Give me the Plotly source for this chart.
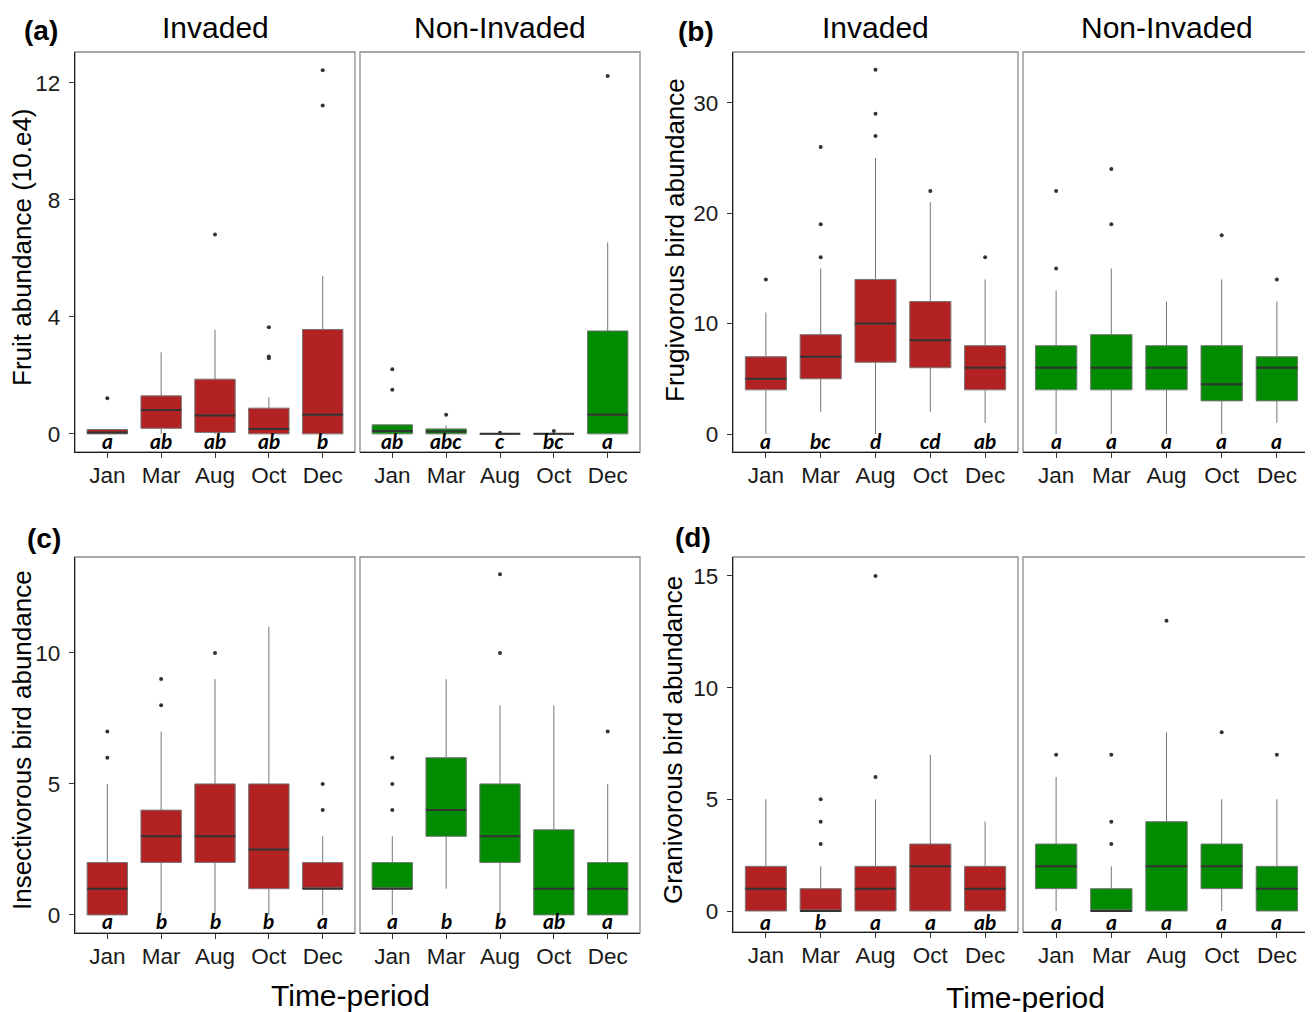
import plotly.graph_objects as go

W, H = 1313, 1012
OFF = 8  # page body margin offset in the browser

months = ["Jan", "Mar", "Aug", "Oct", "Dec"]
site_titles = ["Invaded", "Non-Invaded"]
panel_tags = ["(a)", "(b)", "(c)", "(d)"]
y_titles = ["Fruit abundance (10.e4)", "Frugivorous bird abundance",
            "Insectivorous bird abundance", "Granivorous bird abundance"]

# ---- (a) Fruit abundance ----
fruit_inv_q1 = [0, 0.19, 0.05, 0, 0]
fruit_inv_med = [0.05, 0.82, 0.63, 0.17, 0.65]
fruit_inv_q3 = [0.15, 1.30, 1.87, 0.88, 3.57]
fruit_inv_lo = [0, 0, 0, 0, 0]
fruit_inv_hi = [0.17, 2.79, 3.56, 1.25, 5.40]
fruit_inv_out = [[1.22], [], [6.82], [3.65, 2.65, 2.59], [12.44, 11.23]]
fruit_inv_letters = ["a", "ab", "ab", "ab", "b"]

fruit_non_q1 = [0, 0, 0, 0, 0]
fruit_non_med = [0.10, 0.08, 0, 0, 0.65]
fruit_non_q3 = [0.31, 0.17, 0, 0, 3.52]
fruit_non_lo = [0, 0, 0, 0, 0]
fruit_non_hi = [0.34, 0.28, 0, 0, 6.55]
fruit_non_out = [[2.21, 1.51], [0.65], [0.04], [0.10], [12.24]]
fruit_non_letters = ["ab", "abc", "c", "bc", "a"]

# ---- (b) Frugivorous birds ----
frug_inv_q1 = [4, 5, 6.5, 6, 4]
frug_inv_med = [5, 7, 10, 8.5, 6]
frug_inv_q3 = [7, 9, 14, 12, 8]
frug_inv_lo = [0, 2, 0, 2, 1]
frug_inv_hi = [11, 15, 25, 21, 14]
frug_inv_out = [[14], [16, 19, 26], [27, 29, 33], [22], [16]]
frug_inv_letters = ["a", "bc", "d", "cd", "ab"]

frug_non_q1 = [4, 4, 4, 3, 3]
frug_non_med = [6, 6, 6, 4.5, 6]
frug_non_q3 = [8, 9, 8, 8, 7]
frug_non_lo = [0, 0, 0, 0, 1]
frug_non_hi = [13, 15, 12, 14, 12]
frug_non_out = [[15, 22], [19, 24], [], [18], [14]]
frug_non_letters = ["a", "a", "a", "a", "a"]

# ---- (c) Insectivorous birds ----
ins_inv_q1 = [0, 2, 2, 1, 1]
ins_inv_med = [1, 3, 3, 2.5, 1]
ins_inv_q3 = [2, 4, 5, 5, 2]
ins_inv_lo = [0, 0, 0, 0, 0]
ins_inv_hi = [5, 7, 9, 11, 3]
ins_inv_out = [[6, 7], [8, 9], [10], [], [4, 5]]
ins_inv_letters = ["a", "b", "b", "b", "a"]

ins_non_q1 = [1, 3, 2, 0, 0]
ins_non_med = [1, 4, 3, 1, 1]
ins_non_q3 = [2, 6, 5, 3.25, 2]
ins_non_lo = [0, 1, 0, 0, 0]
ins_non_hi = [3, 9, 8, 8, 5]
ins_non_out = [[4, 5, 6], [], [10, 13], [], [7]]
ins_non_letters = ["a", "b", "b", "ab", "a"]

# ---- (d) Granivorous birds ----
gran_inv_q1 = [0, 0, 0, 0, 0]
gran_inv_med = [1, 0, 1, 2, 1]
gran_inv_q3 = [2, 1, 2, 3, 2]
gran_inv_lo = [0, 0, 0, 0, 0]
gran_inv_hi = [5, 2, 5, 7, 4]
gran_inv_out = [[], [3, 4, 5], [6, 15], [], []]
gran_inv_letters = ["a", "b", "a", "a", "ab"]

gran_non_q1 = [1, 0, 0, 1, 0]
gran_non_med = [2, 0, 2, 2, 1]
gran_non_q3 = [3, 1, 4, 3, 2]
gran_non_lo = [0, 0, 0, 0, 0]
gran_non_hi = [6, 2, 8, 5, 5]
gran_non_out = [[7], [3, 4, 7], [13], [8], [7]]
gran_non_letters = ["a", "a", "a", "a", "a"]

y_ranges = [[-0.62, 13.06], [-1.63, 34.6], [-0.69, 13.66], [-0.94, 15.85]]
y_ticks = [[0, 4, 8, 12], [0, 10, 20, 30], [0, 5, 10], [0, 5, 10, 15]]
letter_shift = [-7, -6, -6, -10]

panels = [
    [(fruit_inv_q1, fruit_inv_med, fruit_inv_q3, fruit_inv_lo, fruit_inv_hi, fruit_inv_out, fruit_inv_letters),
     (fruit_non_q1, fruit_non_med, fruit_non_q3, fruit_non_lo, fruit_non_hi, fruit_non_out, fruit_non_letters)],
    [(frug_inv_q1, frug_inv_med, frug_inv_q3, frug_inv_lo, frug_inv_hi, frug_inv_out, frug_inv_letters),
     (frug_non_q1, frug_non_med, frug_non_q3, frug_non_lo, frug_non_hi, frug_non_out, frug_non_letters)],
    [(ins_inv_q1, ins_inv_med, ins_inv_q3, ins_inv_lo, ins_inv_hi, ins_inv_out, ins_inv_letters),
     (ins_non_q1, ins_non_med, ins_non_q3, ins_non_lo, ins_non_hi, ins_non_out, ins_non_letters)],
    [(gran_inv_q1, gran_inv_med, gran_inv_q3, gran_inv_lo, gran_inv_hi, gran_inv_out, gran_inv_letters),
     (gran_non_q1, gran_non_med, gran_non_q3, gran_non_lo, gran_non_hi, gran_non_out, gran_non_letters)],
]

fills = ["#B22222", "#008B00"]

# pixel layout of facets (screen pixels): (x0, x1) per facet, (y0, y1) per panel
facet_x = [[(75, 355), (360, 640)], [(733, 1018), (1023, 1310)],
           [(75, 355), (360, 640)], [(733, 1018), (1023, 1310)]]
panel_y = [(52, 452), (52, 452), (557, 933), (557, 932)]


def px(x):
    return (x - OFF) / W


def py(y):
    return 1 - (y - OFF) / H


BOXW = 0.75
FONT = "Liberation Sans, Arial, sans-serif"
LFONT = "Lato, Open Sans, sans-serif"

fig = go.Figure()
layout = dict(width=W, height=H, margin=dict(l=0, r=0, t=0, b=0),
              paper_bgcolor="white", plot_bgcolor="white", showlegend=False,
              annotations=[], shapes=[])

for p in range(4):
    for f in range(2):
        idx = p * 2 + f + 1
        sx = "" if idx == 1 else str(idx)
        q1, med, q3, lo, hi, outs, letters = panels[p][f]
        xs = list(range(len(months)))
        fig.add_trace(go.Box(
            x=xs, q1=q1, median=med, q3=q3, lowerfence=lo, upperfence=hi,
            width=BOXW, whiskerwidth=0, fillcolor=fills[f],
            line=dict(color="#767676", width=1), boxpoints=False,
            xaxis="x" + sx, yaxis="y" + sx, hoverinfo="skip"))
        # median lines
        mx, my = [], []
        for i, m in enumerate(med):
            mx += [i - BOXW / 2, i + BOXW / 2, None]
            my += [m, m, None]
        fig.add_trace(go.Scatter(x=mx, y=my, mode="lines",
                                 line=dict(color="#333333", width=2),
                                 xaxis="x" + sx, yaxis="y" + sx, hoverinfo="skip"))
        # outliers
        ox, oy = [], []
        for i, vals in enumerate(outs):
            for v in vals:
                ox.append(i)
                oy.append(v)
        fig.add_trace(go.Scatter(x=ox, y=oy, mode="markers",
                                 marker=dict(color="#333333", size=4),
                                 xaxis="x" + sx, yaxis="y" + sx, hoverinfo="skip"))
        x0, x1 = facet_x[p][f]
        y0, y1 = panel_y[p]
        layout["xaxis" + sx] = dict(
            domain=[px(x0), px(x1)], anchor="y" + sx, range=[-0.6, 4.6],
            tickmode="array", tickvals=xs, ticktext=months,
            showline=True, linecolor="#1a1a1a", linewidth=1.3,
            ticks="outside", ticklen=5, tickcolor="#333333", tickwidth=1,
            showgrid=False, zeroline=False, ticklabelstandoff=-2,
            tickfont=dict(family=FONT, size=22.5, color="#1a1a1a"), fixedrange=True)
        ydict = dict(
            domain=[py(y1), py(y0)], anchor="x" + sx, range=y_ranges[p],
            showgrid=False, zeroline=False, fixedrange=True)
        if f == 0:
            ydict.update(showline=True, linecolor="#1a1a1a", linewidth=1.3,
                         tickmode="array", tickvals=y_ticks[p],
                         ticks="outside", ticklen=5, tickcolor="#333333", tickwidth=1,
                         ticklabelstandoff=4,
                         tickfont=dict(family=FONT, size=22.5, color="#1a1a1a"))
        else:
            ydict.update(showline=False, showticklabels=False, ticks="")
        layout["yaxis" + sx] = ydict
        # grey panel border
        layout["shapes"].append(dict(type="rect", xref="x" + sx + " domain", yref="y" + sx + " domain",
                                     x0=0, x1=1, y0=0, y1=1, layer="below",
                                     line=dict(color="#8c8c8c", width=1.3)))
        # significance letters
        for i, lt in enumerate(letters):
            layout["annotations"].append(dict(
                x=i, y=0, xref="x" + sx, yref="y" + sx, text="<b><i>" + lt + "</i></b>",
                showarrow=False, yanchor="middle", yshift=letter_shift[p],
                font=dict(family=LFONT, size=21, color="black")))
        # facet strip titles (top row only)
        if p < 2:
            layout["annotations"].append(dict(
                x=px((x0 + x1) / 2), y=py(27), xref="paper", yref="paper",
                text=site_titles[f], showarrow=False, xanchor="center", yanchor="middle",
                font=dict(family=FONT, size=30, color="black")))

tag_pos = [(41, 31), (696, 32), (44, 538), (693, 537)]
ytitle_pos = [(22, 247), (675, 240), (22, 740), (673, 740)]
for p in range(4):
    tx, ty = tag_pos[p]
    layout["annotations"].append(dict(
        x=px(tx), y=py(ty), xref="paper", yref="paper", text="<b>" + panel_tags[p] + "</b>",
        showarrow=False, xanchor="center", yanchor="middle",
        font=dict(family=FONT, size=28, color="black")))
    yx, yy = ytitle_pos[p]
    layout["annotations"].append(dict(
        x=px(yx), y=py(yy), xref="paper", yref="paper", text=y_titles[p],
        textangle=-90, showarrow=False, xanchor="center", yanchor="middle",
        font=dict(family=FONT, size=26, color="black")))

for (cx, cy) in [(350, 995), (1025, 997)]:
    layout["annotations"].append(dict(
        x=px(cx), y=py(cy), xref="paper", yref="paper", text="Time-period",
        showarrow=False, xanchor="center", yanchor="middle",
        font=dict(family=FONT, size=30, color="black")))

fig.update_layout(**layout)
fig.write_html("out.html")
